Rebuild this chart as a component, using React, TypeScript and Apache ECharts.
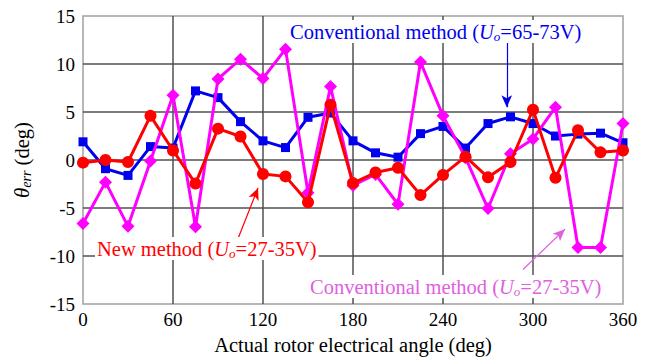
import React, { useEffect, useRef } from "react";
import * as echarts from "echarts";

const angles = [0, 15, 30, 45, 60, 75, 90, 105, 120, 135, 150, 165, 180, 195, 210, 225, 240, 255, 270, 285, 300, 315, 330, 345, 360];
const conv65 = [1.9, -0.9, -1.6, 1.4, 1.25, 7.2, 6.5, 4.0, 2.0, 1.3, 4.45, 4.9, 2.0, 0.75, 0.3, 2.75, 3.5, 1.25, 3.8, 4.5, 3.8, 2.5, 2.7, 2.8, 1.8];
const newMethod = [-0.27, 0.0, -0.2, 4.6, 1.0, -2.45, 3.27, 2.45, -1.45, -1.7, -4.4, 5.75, -2.4, -1.3, -0.8, -3.65, -1.55, 0.35, -1.8, -0.2, 5.25, -1.85, 3.1, 0.8, 1.0];
const conv27 = [-6.6, -2.3, -6.9, -0.1, 6.75, -6.95, 8.45, 10.5, 8.5, 11.55, -3.4, 7.65, -2.65, -1.5, -4.6, 10.2, 4.6, 0.25, -5.05, 0.65, 2.2, 5.5, -9.1, -9.1, 3.8];
const yTicks = [-15, -10, -5, 0, 5, 10, 15];

const BLUE = "#0000ee";
const RED = "#ff0000";
const MAGENTA = "#ff00ff";
const VIOLET = "#e060e0";
const FONT = "'Liberation Serif', 'Times New Roman', serif";
const ANN = 20.5;

function pairs(vals: number[]) {
  return angles.map((a, i) => [a, vals[i]]);
}

function annotation(x: number, y: number, color: string, before: string, after: string) {
  return {
    type: "text",
    x,
    y,
    z: 100,
    style: {
      text: `{n|${before}}{i|U}{s|o}{n|${after}}`,
      fill: color,
      font: `${ANN}px ${FONT}`,
      backgroundColor: "#ffffff",
      padding: [0, 2, 0, 2],
      rich: {
        n: { fontFamily: FONT, fontSize: ANN, fill: color, lineHeight: 23 },
        i: { fontFamily: FONT, fontSize: ANN, fontStyle: "italic", fill: color, lineHeight: 23 },
        s: { fontFamily: FONT, fontSize: 13, fontStyle: "italic", fill: color, verticalAlign: "bottom", lineHeight: 14, padding: [9, 0, 0, 0] },
      },
    },
  };
}

export default function App() {
  const ref = useRef<HTMLDivElement>(null);
  useEffect(() => {
    const chart = echarts.init(ref.current!, null, { renderer: "svg" });
    const arrow = (color: string, from: number[], to: number[]) => ({
      silent: true,
      symbol: ["none", "arrow"],
      symbolSize: [8, 12],
      label: { show: false },
      lineStyle: { color, width: 1.2, type: "solid" },
      data: [[{ coord: from }, { coord: to }]],
    });
    chart.setOption({
      animation: false,
      backgroundColor: "#ffffff",
      textStyle: { fontFamily: FONT },
      grid: { left: 83, right: 27, top: 16, bottom: 48, show: true, borderColor: "#a0a0a0", borderWidth: 1.5 },
      xAxis: {
        type: "value",
        min: 0,
        max: 360,
        interval: 60,
        name: "Actual rotor electrical angle (deg)",
        nameLocation: "middle",
        nameGap: 28,
        nameTextStyle: { fontFamily: FONT, fontSize: ANN, color: "#000" },
        axisLine: { show: false },
        axisTick: { show: false },
        axisLabel: { fontFamily: FONT, fontSize: 19, color: "#000", margin: 6 },
        splitLine: { show: true, showMinLine: false, showMaxLine: false, lineStyle: { color: "#505050", width: 1.5 } },
      },
      yAxis: {
        type: "value",
        min: -15,
        max: 15,
        interval: 5,
        name: "{t|θ}{s|err}{n| (deg)}",
        nameLocation: "middle",
        nameGap: 50,
        nameRotate: 90,
        nameTextStyle: {
          fontFamily: FONT,
          rich: {
            t: { fontFamily: FONT, fontSize: 21, fontStyle: "italic", color: "#000" },
            s: { fontFamily: FONT, fontSize: 14, fontStyle: "italic", color: "#000", verticalAlign: "bottom", padding: [9, 0, 0, 0] },
            n: { fontFamily: FONT, fontSize: ANN, color: "#000" },
          },
        },
        axisLine: { show: false },
        axisTick: { show: false },
        axisLabel: { fontFamily: FONT, fontSize: 19, color: "#000", margin: 8, formatter: (v: number) => (yTicks.includes(v) ? String(v) : "") },
        splitLine: { show: true, showMinLine: false, showMaxLine: false, lineStyle: { color: "#505050", width: 1.5 } },
      },
      series: [
        {
          type: "line",
          name: "Conventional 65-73V",
          data: pairs(conv65),
          symbol: "rect",
          symbolSize: 9,
          lineStyle: { color: BLUE, width: 3 },
          itemStyle: { color: BLUE },
          z: 3,
          markLine: arrow(BLUE, [282.5, 12.3], [282.5, 5.5]),
        },
        {
          type: "line",
          name: "Conventional 27-35V",
          data: pairs(conv27),
          symbol: "diamond",
          symbolSize: 13,
          lineStyle: { color: MAGENTA, width: 3 },
          itemStyle: { color: MAGENTA },
          z: 4,
          markLine: arrow(VIOLET, [293.3, -11.4], [321.3, -7.2]),
        },
        {
          type: "line",
          name: "New 27-35V",
          data: pairs(newMethod),
          symbol: "circle",
          symbolSize: 12,
          lineStyle: { color: RED, width: 3 },
          itemStyle: { color: RED },
          z: 5,
          markLine: arrow(RED, [103.3, -8.2], [116.7, -2.9]),
        },
      ],
      graphic: [
        annotation(288, 20, BLUE, "Conventional method (", "=65-73V)"),
        annotation(95, 237, RED, "New method (", "=27-35V)"),
        annotation(308, 275, VIOLET, "Conventional method (", "=27-35V)"),
      ],
    });
    return () => chart.dispose();
  }, []);
  return <div ref={ref} style={{ position: "fixed", left: 0, top: 0, width: 650, height: 360 }} />;
}
